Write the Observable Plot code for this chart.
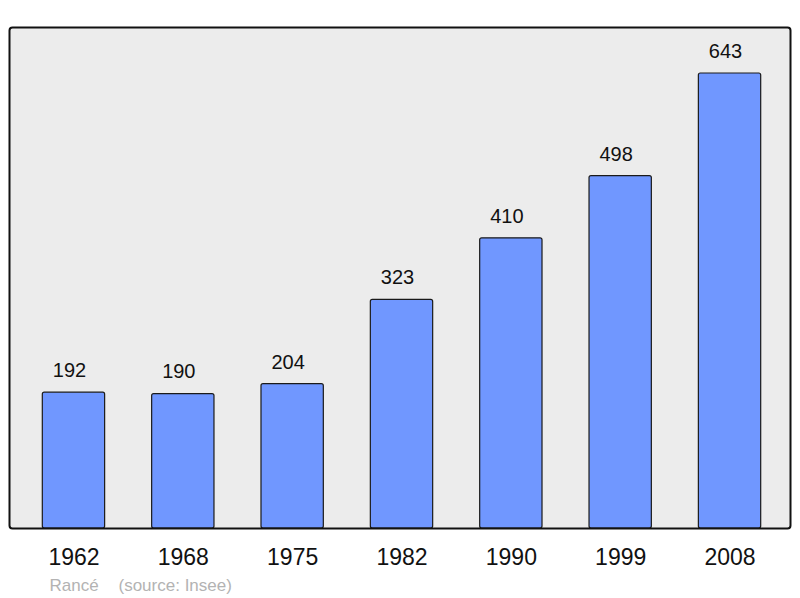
<!DOCTYPE html>
<html><head><meta charset="utf-8">
<script src="https://cdn.jsdelivr.net/npm/d3@7"></script>
<script src="https://cdn.jsdelivr.net/npm/@observablehq/plot@0.6"></script>
<style>body{margin:0;background:#fff;}svg{display:block;}</style>
</head><body><div id="chart"></div>
<script>
const years = ["1962","1968","1975","1982","1990","1999","2008"];
const population = [192,190,204,323,410,498,643];
const communeName = "Rancé";
const sourceNote = "(source: Insee)";
const data = years.map((y,i)=>({year:y, value:population[i]}));

const chart = Plot.plot({
  width: 800, height: 598,
  marginLeft: 9, marginRight: 10, marginTop: 27, marginBottom: 70,
  style: {fontFamily: "'Liberation Sans', Arial, sans-serif", background: "#fff"},
  x: {domain: years, range: [18.8, 784.2], paddingInner: 0.43, paddingOuter: 0.215, round: false, label: null},
  y: {domain: [0, 708], axis: null},
  marks: [
    Plot.frame({fill: "#ececec", stroke: "none"}),
    Plot.barY(data, {x: "year", y: "value", fill: "#7097ff", stroke: "#1a1a1a", strokeWidth: 1.2, rx: 2}),
    Plot.text(data, {x: "year", y: "value", text: d => String(d.value), dy: -22, dx: -4.5, fontSize: 20, fill: "#111"}),
    Plot.frame({stroke: "#111", strokeWidth: 2, rx: 3, fill: "none"}),
    Plot.axisX({tickSize: 0, tickPadding: 20, fontSize: 23, color: "#111"}),
    Plot.text([communeName], {frameAnchor: "bottom-left", lineAnchor: "middle", text: d => d, dx: 40, dy: 57, textAnchor: "start", fontSize: 17, fill: "#b3b3b3"}),
    Plot.text([sourceNote], {frameAnchor: "bottom-left", lineAnchor: "middle", text: d => d, dx: 109, dy: 57, textAnchor: "start", fontSize: 17, fill: "#b3b3b3"})
  ]
});
document.getElementById("chart").append(chart);
</script></body></html>
